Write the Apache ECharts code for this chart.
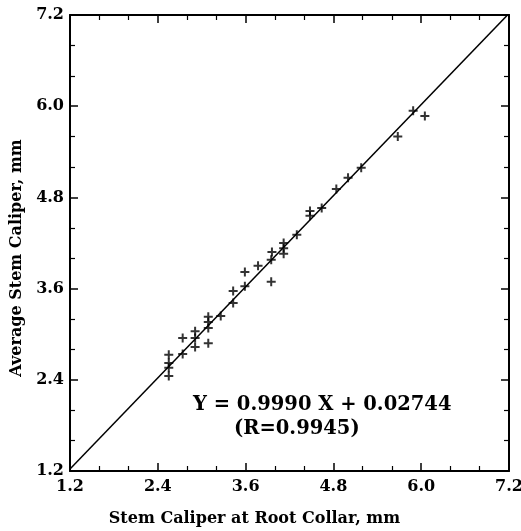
<!DOCTYPE html>
<html>
<head>
<meta charset="utf-8">
<script src="https://cdn.jsdelivr.net/npm/echarts@6/dist/echarts.min.js"></script>
<style>
  html, body { margin: 0; padding: 0; background: #fff; }
  #chart1 { width: 521px; height: 531px; }
</style>
</head>
<body>
<div id="chart1"></div>
<script>
// stem caliper at root collar (x) vs average stem caliper (y), mm
var rootCollar = [2.55, 2.55, 2.55, 2.55, 2.74, 2.74, 2.91, 2.91, 2.91,
    3.09, 3.09, 3.09, 3.09, 3.26, 3.43, 3.43, 3.59, 3.59, 3.77,
    3.95, 3.96, 3.95, 4.12, 4.12, 4.12, 4.30, 4.48, 4.48, 4.64,
    4.84, 5.00, 5.18, 5.68, 5.89, 6.05];
var avgStem = [2.73, 2.62, 2.56, 2.45, 2.95, 2.74, 3.04, 2.95, 2.83,
    3.23, 3.16, 3.08, 2.88, 3.24, 3.57, 3.41, 3.82, 3.63, 3.90,
    3.98, 4.08, 3.69, 4.20, 4.13, 4.06, 4.31, 4.62, 4.56, 4.66,
    4.91, 5.06, 5.19, 5.60, 5.94, 5.87];

// fitted line Y = 0.9990 X + 0.02744
var slope = 0.9990;
var intercept = 0.02744;
var fitX = [1.2, 7.2];

var ticks = ['1.2', '2.4', '3.6', '4.8', '6.0', '7.2'];

var points = [];
for (var i = 0; i < rootCollar.length; i++) {
    points.push([rootCollar[i], avgStem[i]]);
}
var fitLine = fitX.map(function (x) { return [x, slope * x + intercept]; });

var plus = 'path://M3.5,0h2v3.5h3.5v2h-3.5v3.5h-2v-3.5h-3.5v-2h3.5z';
var font = 'DejaVu Serif';

function valueAxis(pos, showLabel, name) {
    return {
        type: 'value',
        position: pos,
        min: 1.2,
        max: 7.2,
        interval: 1.2,
        name: name || '',
        splitLine: {show: false},
        axisLine: {show: true, onZero: false, lineStyle: {color: '#000', width: 2}},
        axisTick: {show: true, inside: true, length: 8, lineStyle: {color: '#000', width: 1.5}},
        minorTick: {show: true, splitNumber: 3, length: 5, lineStyle: {color: '#000', width: 1.2}},
        axisLabel: {
            show: showLabel,
            color: '#000',
            fontFamily: font,
            fontWeight: 'bold',
            fontSize: 16,
            formatter: function (v) { return ticks[Math.round((v - 1.2) / 1.2)] || ''; }
        }
    };
}

var xBottom = valueAxis('bottom', true, 'Stem Caliper at Root Collar, mm');
xBottom.nameLocation = 'middle';
xBottom.nameGap = 40;
xBottom.axisLabel.margin = 8;
xBottom.nameTextStyle = {color: '#000', fontFamily: font, fontWeight: 'bold', fontSize: 16, padding: [0, 70, 0, 0]};

var yLeft = valueAxis('left', true, 'Average Stem Caliper, mm');
yLeft.nameLocation = 'middle';
yLeft.nameGap = 44;
yLeft.axisLabel.margin = 6;
yLeft.nameTextStyle = {color: '#000', fontFamily: font, fontWeight: 'bold', fontSize: 16, padding: [0, 30, 0, 0]};

var dom = document.getElementById("chart1");
var myChart = echarts.init(dom);

option = {
    backgroundColor: '#fff',
    animation: false,
    grid: {left: 70, right: 12, top: 15, bottom: 60, outerBoundsMode: 'none'},
    xAxis: [xBottom, valueAxis('top', false)],
    yAxis: [yLeft, valueAxis('right', false)],
    graphic: [
        {
            type: 'text',
            left: 193,
            top: 395,
            style: {
                text: 'Y = 0.9990 X + 0.02744',
                fill: '#000',
                font: 'bold 19.5px "DejaVu Serif"'
            }
        },
        {
            type: 'text',
            left: 234,
            top: 419,
            style: {
                text: '(R=0.9945)',
                fill: '#000',
                font: 'bold 19.5px "DejaVu Serif"'
            }
        }
    ],
    series: [
        {
            name: 'fit',
            type: 'line',
            data: fitLine,
            symbol: 'none',
            lineStyle: {color: '#000', width: 1.5},
            clip: true
        },
        {
            name: 'obs',
            type: 'scatter',
            data: points,
            symbol: plus,
            symbolSize: 9,
            itemStyle: {color: '#000'}
        }
    ]
};

if (option && typeof option === "object") {
    myChart.setOption(option, true);
}
</script>
</body>
</html>
